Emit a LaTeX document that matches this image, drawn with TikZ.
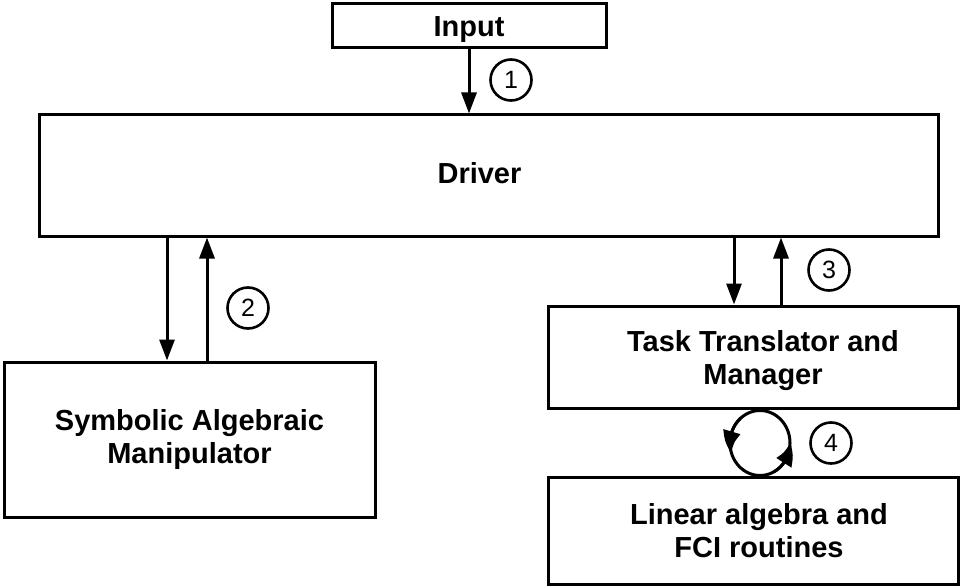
\documentclass[tikz,border=0pt]{standalone}
\usepackage{fontspec}
\setmainfont{Liberation Sans}
\usepackage{tikz}
\usetikzlibrary{arrows.meta, bending, positioning}
\tikzset{
  block/.style={rectangle, draw=black, line width=3pt, align=center,
                inner sep=0pt, font=\bfseries\fontsize{29}{33}\selectfont},
  stepmark/.style={circle, draw=black, line width=2.6pt, minimum size=41pt,
               inner sep=0pt, font=\fontsize{25}{25}\selectfont},
  arrow/.style={-{Triangle[length=21pt, width=15pt]}, line width=3pt},
  looparrow/.style={-{Triangle[length=22pt, width=17pt, bend]}, line width=3pt},
}

\begin{document}
\begin{tikzpicture}[x=1pt, y=-1pt]
  \useasboundingbox (0,0) rectangle (963,588);

  \node[block, minimum width=274pt, minimum height=44pt]  (inp) at (469,25.5)   {\raisebox{-4pt}[\height][\depth]{Input}};
  \node[block, minimum width=899pt, minimum height=121pt] (drv) at (488.5,175.5) {\raisebox{2pt}[\height][\depth]{Driver}\hspace*{18pt}};
  \node[block, minimum width=371pt, minimum height=155pt] (sam) at (189.5,439.5) {Symbolic Algebraic\\Manipulator};
  \node[block, minimum width=410pt, minimum height=102pt] (ttm) at (753,357)    {\rule{0pt}{29pt}\hspace*{20pt}Task Translator and\\\hspace*{20pt}Manager};
  \node[block, minimum width=410pt, minimum height=107pt] (lin) at (753,530.5)  {\hspace*{12pt}Linear algebra and\\\hspace*{12pt}FCI routines};

  % step labels
  \node[stepmark] (s1) at (511,80)  {1};
  \node[stepmark] (s2) at (248,308) {2};
  \node[stepmark] (s3) at (829,270) {3};
  \node[stepmark] (s4) at (831,443) {4};

  \draw[arrow] (inp.south) -- (inp.south |- drv.north);

  \draw[arrow] ([xshift=-22.5pt]sam.north |- drv.south) -- ([xshift=-22.5pt]sam.north);
  \draw[arrow] ([xshift=17.5pt]sam.north) -- ([xshift=17.5pt]sam.north |- drv.south);

  \draw[arrow] ([xshift=-19pt]ttm.north |- drv.south) -- ([xshift=-19pt]ttm.north);
  \draw[arrow] ([xshift=28pt]ttm.north) -- ([xshift=28pt]ttm.north |- drv.south);

  % loop between translator and routines
  \coordinate (loop) at (760,443);
  \draw[line width=3pt] (loop) ellipse[x radius=30pt, y radius=32.5pt];
  \draw[looparrow] (loop) ++(130:30pt and 32.5pt) arc (130:198:30pt and 32.5pt);
  \draw[looparrow] (loop) ++(-62:30pt and 32.5pt) arc (-62:1:30pt and 32.5pt);
\end{tikzpicture}
\end{document}
